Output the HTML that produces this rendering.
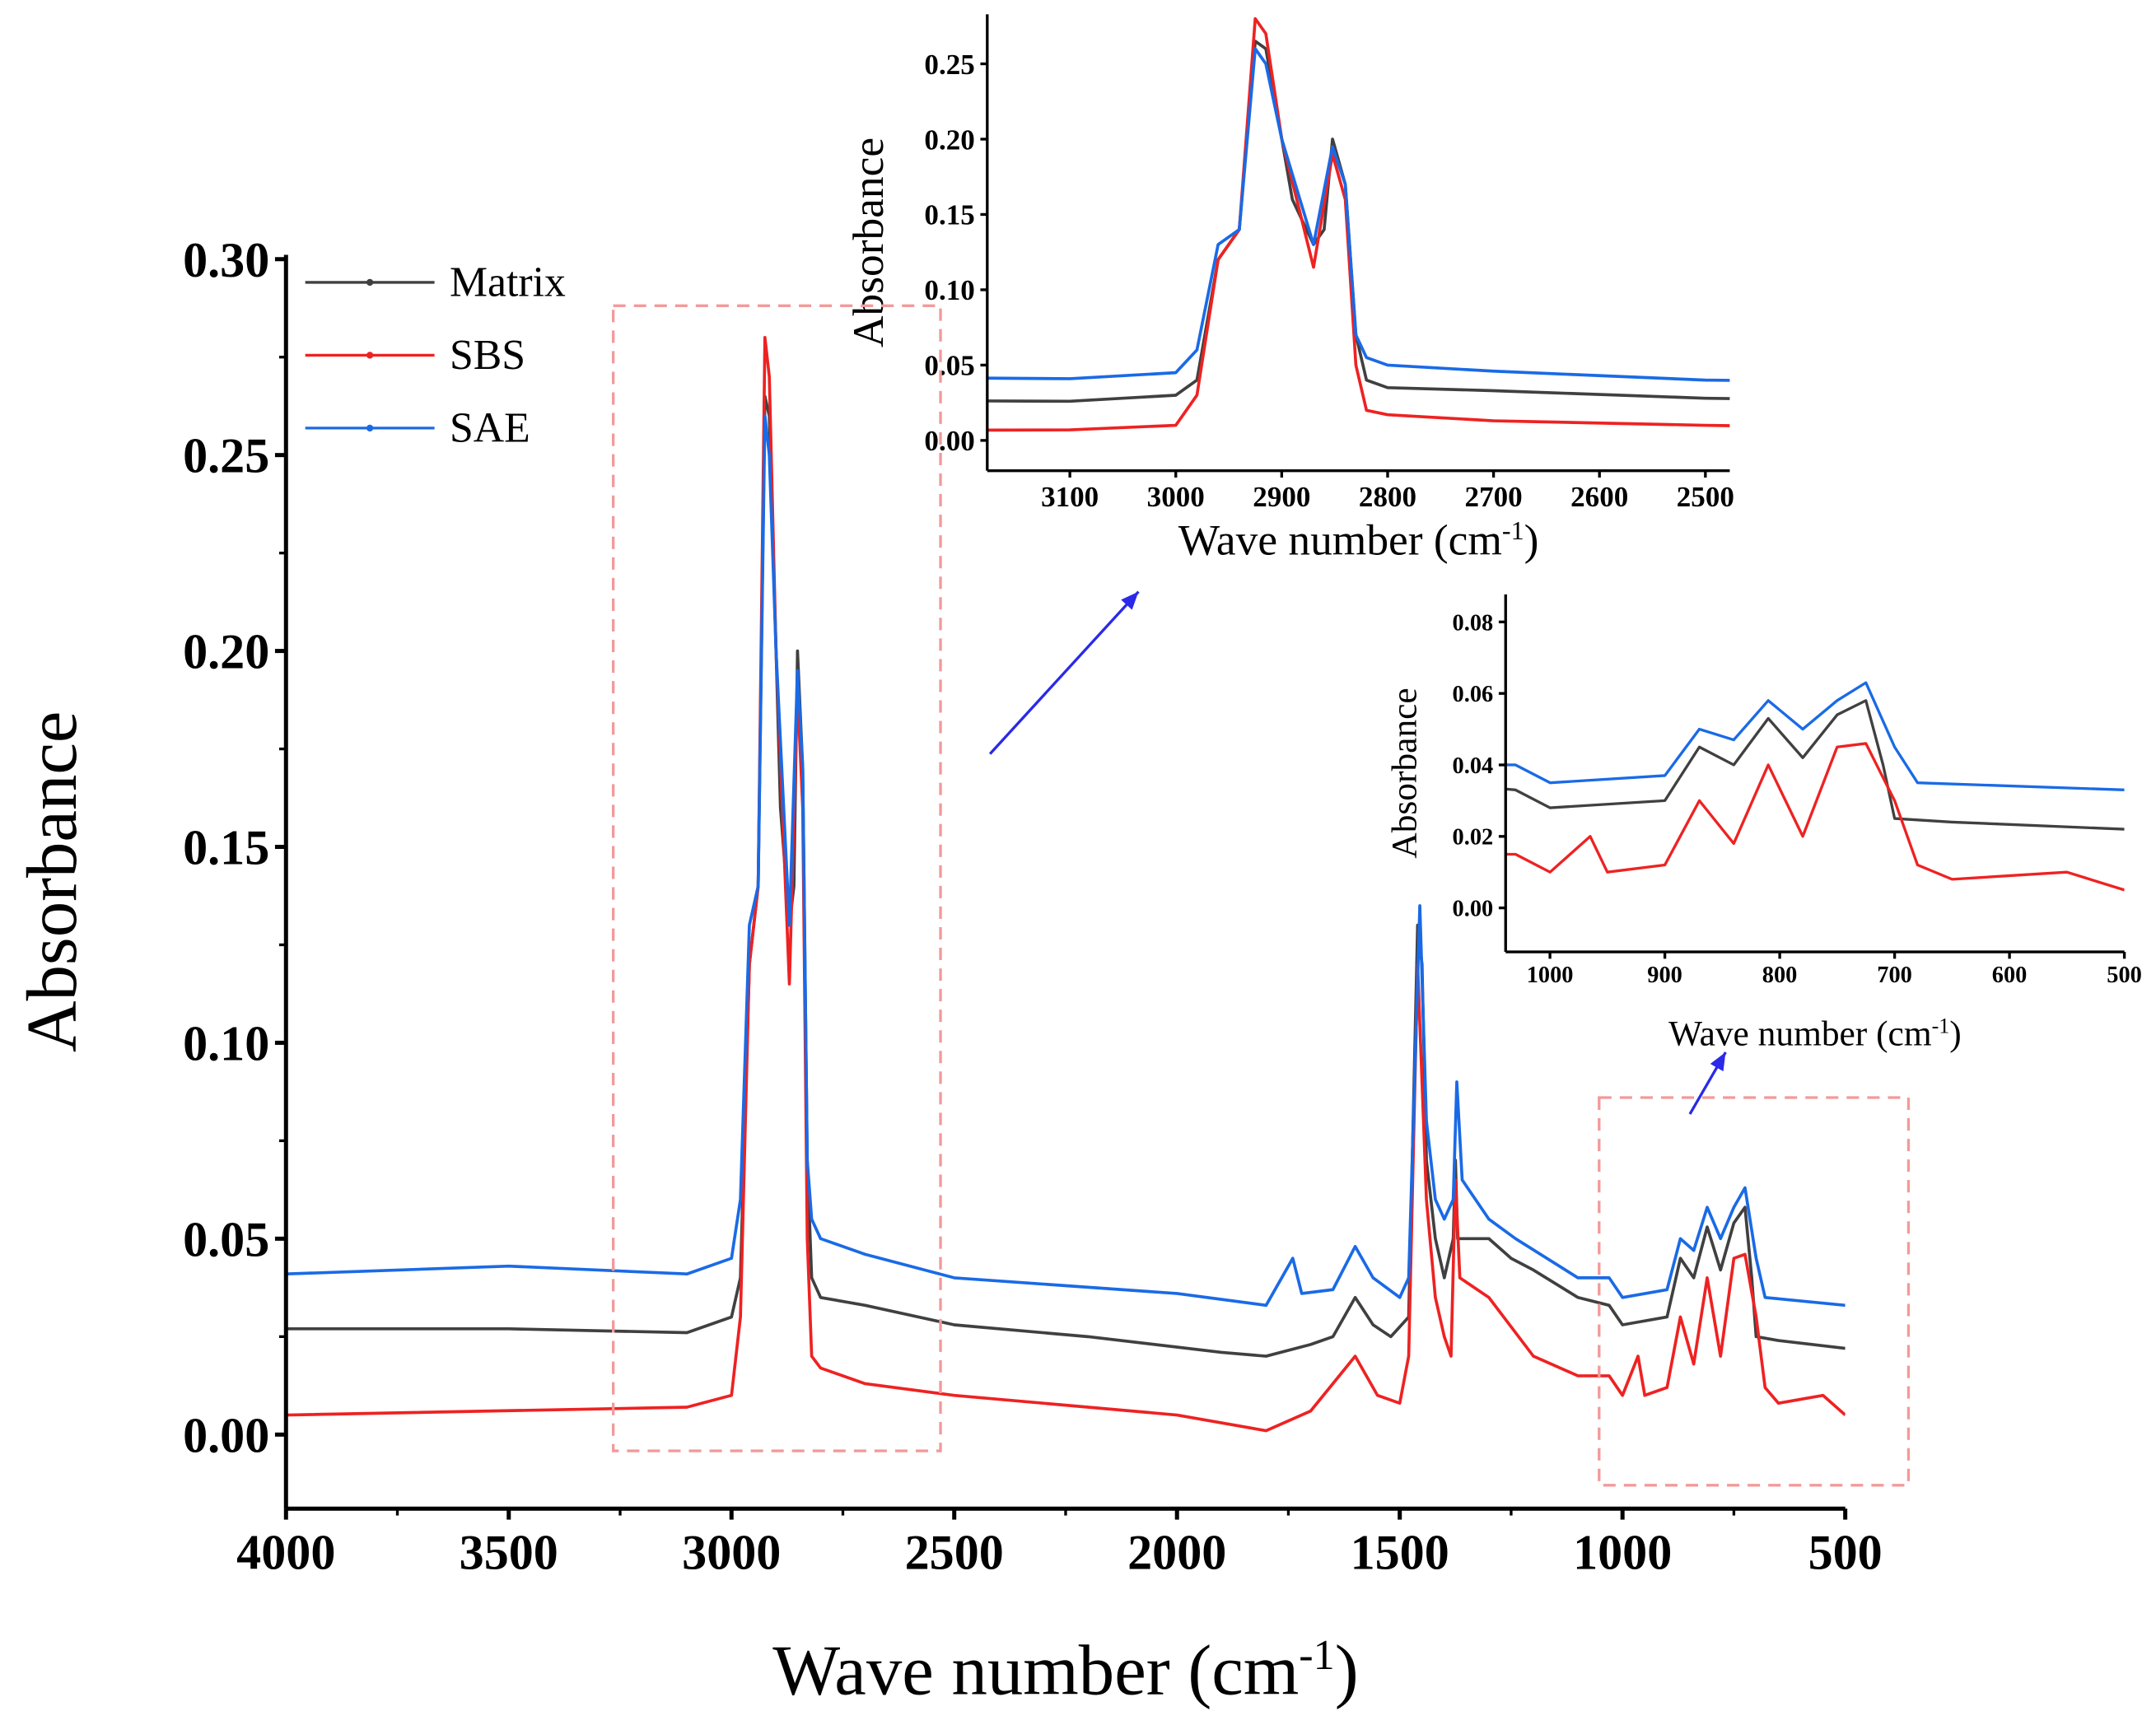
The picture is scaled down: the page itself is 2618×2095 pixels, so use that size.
<!DOCTYPE html>
<html><head><meta charset="utf-8"><style>
html,body{margin:0;padding:0;background:#fff}
svg{display:block}
text{font-family:"Liberation Serif",serif;fill:#000}
</style></head><body>
<svg id="c" width="2618" height="2095" viewBox="0 0 1568 1254" xmlns="http://www.w3.org/2000/svg"></svg>
<script>
// ---- data ----
const matrixX=[4000,3500,3100,3000,2980,2960,2940,2925,2915,2900,2890,2870,2860,2852,2840,2830,2820,2800,2700,2500,2200,1900,1800,1700,1650,1600,1560,1520,1480,1460,1450,1440,1420,1400,1380,1375,1370,1300,1250,1200,1100,1030,1000,900,870,840,810,780,750,725,710,700,650,500];
const matrixY=[0.027,0.027,0.026,0.03,0.04,0.12,0.14,0.265,0.26,0.2,0.16,0.13,0.14,0.2,0.17,0.07,0.04,0.035,0.033,0.028,0.025,0.021,0.02,0.023,0.025,0.035,0.028,0.025,0.03,0.13,0.12,0.07,0.05,0.04,0.05,0.07,0.05,0.05,0.045,0.042,0.035,0.033,0.028,0.03,0.045,0.04,0.053,0.042,0.054,0.058,0.04,0.025,0.024,0.022];
const sbsX=[4000,3100,3000,2980,2960,2940,2925,2915,2900,2870,2852,2840,2830,2820,2800,2700,2500,2000,1800,1700,1600,1550,1500,1480,1460,1440,1420,1400,1385,1375,1365,1300,1200,1100,1030,1000,965,950,900,870,840,810,780,750,725,700,680,650,550,500];
const sbsY=[0.005,0.007,0.01,0.03,0.12,0.14,0.28,0.27,0.2,0.115,0.19,0.16,0.05,0.02,0.017,0.013,0.01,0.005,0.001,0.006,0.02,0.01,0.008,0.02,0.12,0.06,0.035,0.025,0.02,0.065,0.04,0.035,0.02,0.015,0.015,0.01,0.02,0.01,0.012,0.03,0.018,0.04,0.02,0.045,0.046,0.03,0.012,0.008,0.01,0.005];
const saeX=[4000,3500,3100,3000,2980,2960,2940,2925,2915,2900,2870,2852,2840,2830,2820,2800,2700,2500,2000,1800,1740,1720,1650,1600,1560,1500,1480,1455,1440,1420,1400,1380,1372,1360,1300,1240,1100,1030,1000,900,870,840,810,780,750,725,700,680,500];
const saeY=[0.041,0.043,0.041,0.045,0.06,0.13,0.14,0.26,0.25,0.2,0.13,0.195,0.17,0.07,0.055,0.05,0.046,0.04,0.036,0.033,0.045,0.036,0.037,0.048,0.04,0.035,0.04,0.135,0.08,0.06,0.055,0.06,0.09,0.065,0.055,0.05,0.04,0.04,0.035,0.037,0.05,0.047,0.058,0.05,0.058,0.063,0.045,0.035,0.033];
const mainXTicks=[4000,3500,3000,2500,2000,1500,1000,500];
const mainYTicks=[0,0.05,0.1,0.15,0.2,0.25,0.3];
const in1XTicks=[3100,3000,2900,2800,2700,2600,2500];
const in1YTicks=[0,0.05,0.1,0.15,0.2,0.25];
const in2XTicks=[1000,900,800,700,600,500];
const in2YTicks=[0,0.02,0.04,0.06,0.08];
// ---- drawing ----
const svg=document.getElementById('c');const NS='http://www.w3.org/2000/svg';
function mk(t,a,p){const e=document.createElementNS(NS,t);for(const k in a)e.setAttribute(k,a[k]);(p||svg).appendChild(e);return e;}
function txt(s,x,y,sz,anchor,w,p){const e=mk('text',{x:x,y:y,'font-size':sz,'text-anchor':anchor||'middle','font-weight':w||'normal'},p);e.textContent=s;return e;}
const series=[{n:'matrix',x:matrixX,y:matrixY,c:'#404040'},{n:'sbs',x:sbsX,y:sbsY,c:'#ee2222'},{n:'sae',x:saeX,y:saeY,c:'#1a6ae6'}];
function axes(o){
  const sx=v=>o.x0+(v-o.xa)/(o.xb-o.xa)*(o.x1-o.x0);
  const sy=v=>o.y0+(v-o.ya)/(o.yb-o.ya)*(o.y1-o.y0);
  const g=mk('g',{});
  
  
  const cid='clip'+o.name;const cp=mk('clipPath',{id:cid},g);mk('rect',{x:o.x0,y:o.y1,width:o.x1-o.x0,height:o.y0-o.y1},cp);
  series.forEach(s=>{let d='';s.x.forEach((xv,i)=>{d+=(i?'L':'M')+sx(xv).toFixed(1)+','+sy(s.y[i]).toFixed(1);});
    const p=mk('path',{d:d,fill:'none',stroke:s.c,'stroke-width':o.lw,'clip-path':'url(#'+cid+')','stroke-linejoin':'round'},g);
    
    });
  mk('line',{x1:o.x0,y1:o.y0,x2:o.x1,y2:o.y0,stroke:'#000','stroke-width':o.aw},g);
  mk('line',{x1:o.x0,y1:o.y0,x2:o.x0,y2:o.y1,stroke:'#000','stroke-width':o.aw},g);
  o.xt.forEach(v=>{const X=sx(v);mk('line',{x1:X,y1:o.y0,x2:X,y2:o.y0+o.tl,stroke:'#000','stroke-width':o.aw},g);
    const t=txt(String(v),X,o.y0+o.tl+o.fs,o.fs,'middle','bold',g);});
  o.yt.forEach(v=>{const Y=sy(v);mk('line',{x1:o.x0,y1:Y,x2:o.x0-o.tl,y2:Y,stroke:'#000','stroke-width':o.aw},g);
    const t=txt(v.toFixed(2),o.x0-o.tl-4,Y+o.fs*0.35,o.fs,'end','bold',g);});
  const xl=txt('',(o.x0+o.x1)/2,o.xlY,o.lf,'middle','normal',g);xl.textContent='Wave number (cm';const sup=mk('tspan',{'font-size':o.lf*0.6,dy:-o.lf*0.35},xl);sup.textContent='-1';const cl=mk('tspan',{dy:o.lf*0.35},xl);cl.textContent=')';
  
  const yl=txt('Absorbance',0,0,o.lf,'middle','normal',g);yl.setAttribute('transform','translate('+o.ylX+','+(o.y0+o.y1)/2+') rotate(-90)');
  
  return {sx,sy};
}
// main
const m=axes({name:'main-plot',x0:208,x1:1342,xa:4000,xb:500,y0:1097,y1:185,ya:-0.0189,yb:0.3011,lw:2.2,aw:3,tl:8,fs:36,lf:52,xlY:1232,ylX:55,xt:mainXTicks,yt:mainYTicks});
for(let v=3750;v>500;v-=500){const X=m.sx(v);mk('line',{x1:X,y1:1097,x2:X,y2:1102,stroke:'#000','stroke-width':2});}
for(let v=0.025;v<0.3;v+=0.05){const Y=m.sy(v);mk('line',{x1:208,y1:Y,x2:203,y2:Y,stroke:'#000','stroke-width':2});}
// inset 1
axes({name:'inset-ch-stretch',x0:718,x1:1258,xa:3178,xb:2477,y0:342,y1:10,ya:-0.0201,yb:0.2829,lw:2.2,aw:2,tl:5,fs:21,lf:32,xlY:403,ylX:642,xt:in1XTicks,yt:in1YTicks});
// inset 2
axes({name:'inset-fingerprint',x0:1095,x1:1545,xa:1038.6,xb:500,y0:692,y1:432,ya:-0.0123,yb:0.0877,lw:2,aw:2,tl:5,fs:17,lf:26,xlY:760,ylX:1030,xt:in2XTicks,yt:in2YTicks});
// dashed boxes
[[446,222,238,833,'zoom-box-ch'],[1163,798,225,282,'zoom-box-fingerprint']].forEach(b=>{const r=mk('rect',{x:b[0],y:b[1],width:b[2],height:b[3],fill:'none',stroke:'#f29a9a','stroke-width':2,'stroke-dasharray':'9,6'});
  });
// arrows
[[720,548,828,430],[1229,810,1255,765]].forEach(a=>{const l=mk('line',{x1:a[0],y1:a[1],x2:a[2],y2:a[3],stroke:'#2a2ae8','stroke-width':2});
  
  const ang=Math.atan2(a[3]-a[1],a[2]-a[0]);const L=14,w=0.4;
  mk('polygon',{points:a[2]+','+a[3]+' '+(a[2]-L*Math.cos(ang-w))+','+(a[3]-L*Math.sin(ang-w))+' '+(a[2]-L*Math.cos(ang+w))+','+(a[3]-L*Math.sin(ang+w)),fill:'#2a2ae8'});});
// legend
const lg=mk('g',{});
[['Matrix','#404040',205],['SBS','#ee2222',258],['SAE','#1a6ae6',311]].forEach(e=>{
  const g=mk('g',{},lg);
  mk('line',{x1:222,y1:e[2],x2:316,y2:e[2],stroke:e[1],'stroke-width':2},g);
  mk('circle',{cx:269,cy:e[2],r:2.5,fill:e[1]},g);
  txt(e[0],327,e[2]+10,31,'start','normal',g);});
</script>
</body></html>
